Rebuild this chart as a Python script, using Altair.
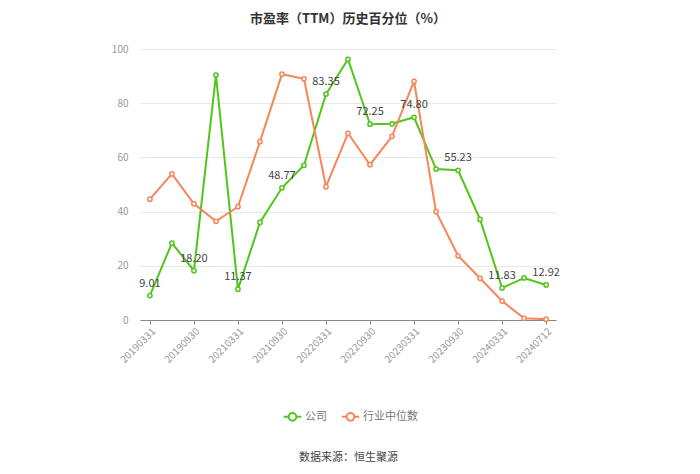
import altair as alt
import pandas as pd

dates = ["20190331", "20190630", "20190930", "20201231", "20210331", "20210630",
         "20210930", "20211231", "20220331", "20220630", "20220930", "20221231",
         "20230331", "20230630", "20230930", "20231231", "20240331", "20240630",
         "20240712"]
company = [9.01, 28.4, 18.20, 90.4, 11.37, 36.0, 48.77, 57.1, 83.35, 96.2,
           72.25, 72.4, 74.80, 55.7, 55.23, 37.1, 11.83, 15.5, 12.92]
industry = [44.6, 53.9, 42.9, 36.4, 41.8, 65.8, 90.7, 89.0, 49.2, 68.9,
            57.3, 67.8, 88.1, 40.0, 23.7, 15.4, 7.0, 0.6, 0.3]
tick_dates = dates[::2]
label_dates = dates[::2]
series_names = ["公司", "行业中位数"]
colors = ["#52C41A", "#F7855A"]

rows = []
for d, c, i in zip(dates, company, industry):
    rows.append({"date": d, "series": series_names[0], "value": c,
                 "label": f"{c:.2f}" if d in label_dates else ""})
    rows.append({"date": d, "series": series_names[1], "value": i, "label": ""})
df = pd.DataFrame(rows)

FONT = "Noto Sans CJK SC"

x = alt.X("date:O", sort=dates,
          scale=alt.Scale(type="point", padding=0.45),
          axis=alt.Axis(values=tick_dates, labelAngle=-45, labelAlign="right",
                        labelBaseline="top", labelColor="#999999", labelFontSize=10,
                        labelPadding=2, domainColor="#888888", tickColor="#888888",
                        tickSize=4, grid=False,
                        title="数据来源：恒生聚源", titleFontSize=11,
                        titleFontWeight="normal", titleColor="#444444",
                        titleY=137, titleBaseline="middle", titleFont=FONT))
y = alt.Y("value:Q", scale=alt.Scale(domain=[0, 100]),
          axis=alt.Axis(values=[0, 20, 40, 60, 80, 100], domain=False, ticks=False,
                        labelColor="#999999", labelFontSize=10, labelPadding=12,
                        gridColor="#E8E8E8", title=None))
color = alt.Color("series:N", sort=series_names,
                  scale=alt.Scale(domain=series_names, range=colors),
                  legend=alt.Legend(orient="none", legendX=146, legendY=361,
                                    direction="horizontal", title=None,
                                    symbolType="M-1.6,0L-0.7,0M0.7,0A0.7,0.7 0 1,1 -0.7,0A0.7,0.7 0 1,1 0.7,0M0.7,0L1.6,0",
                                    symbolFillColor="white", symbolStrokeWidth=2,
                                    symbolSize=120, labelFontSize=11,
                                    labelColor="#777777", columnPadding=10,
                                    labelOffset=6, labelFont=FONT))

lines = alt.Chart(df).mark_line(strokeWidth=2).encode(
    x=x, y=y, color=color, order=alt.Order("series:N"))
points = alt.Chart(df).mark_point(filled=True, fill="white", size=18, strokeWidth=1.5,
                                  opacity=1).encode(
    x=x, y=y, stroke=alt.Stroke("series:N", scale=alt.Scale(domain=series_names, range=colors),
                                legend=None))
labels = alt.Chart(df).transform_filter("datum.label != ''").mark_text(
    dy=-12, fontSize=11, color="#444444", font=FONT).encode(
    x=x, y=y, text="label:N")

chart = alt.layer(lines, points, labels).properties(
    width=416, height=271,
    title=alt.TitleParams("市盈率（TTM）历史百分位（%）", fontSize=13, fontWeight="bold",
                          color="#333333", anchor="middle", offset=18, font=FONT),
    padding={"left": 132, "top": 41, "right": 136, "bottom": 146},
    autosize=alt.AutoSizeParams(type="none"),
).configure(font=FONT).configure_view(stroke=None)

chart.save("out.html", embed_options={"renderer": "svg", "actions": False})
